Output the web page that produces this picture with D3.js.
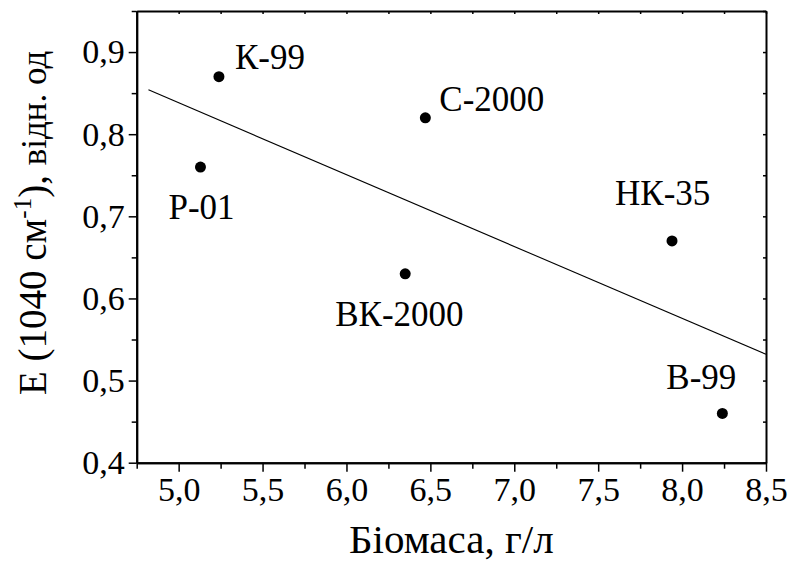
<!DOCTYPE html>
<html>
<head>
<meta charset="utf-8">
<script src="https://cdn.jsdelivr.net/npm/d3@7"></script>
<style>
html,body{margin:0;padding:0;background:#fff;}
svg text{font-family:'Liberation Serif', serif;}
</style>
</head>
<body>
<svg id="chart" width="790" height="561"></svg>
<script>
// ---- data ----
const sampleNames = ["К-99", "Р-01", "С-2000", "ВК-2000", "НК-35", "В-99"];
const biomass     = [5.24, 5.13, 6.47, 6.35, 7.94, 8.24];
const extinction  = [0.87, 0.76, 0.82, 0.63, 0.67, 0.46];
const fitX = [4.82, 8.5];
const fitY = [0.854, 0.532];
const xTickValues = [5.0, 5.5, 6.0, 6.5, 7.0, 7.5, 8.0, 8.5];
const yTickValues = [0.4, 0.5, 0.6, 0.7, 0.8, 0.9];
const xMinorValues = [4.75, 5.25, 5.75, 6.25, 6.75, 7.25, 7.75, 8.25];
const yMinorValues = [0.45, 0.55, 0.65, 0.75, 0.85, 0.95];

// label placement (pixel offsets from point: text start, baseline)
const labelOffsets = [[16,-8],[-32,52],[14,-7],[-70,52],[-57,-36],[-56,-24]];

const FONT = "Liberation Serif";
const svg = d3.select("#chart");
const L = 136.7, R = 766, T = 11, B = 462.7;
const x = d3.scaleLinear().domain([4.75, 8.5]).range([L, R]);
const y = d3.scaleLinear().domain([0.4, 0.95]).range([B, T]);
const fmt = d => d3.format(".1f")(d).replace(".", ",");

// bottom axis
const gB = svg.append("g").attr("transform", `translate(0,${B})`);
gB.call(d3.axisBottom(x).tickValues(xTickValues).tickFormat(fmt).tickSize(9).tickSizeOuter(0).tickPadding(5));
gB.append("g").call(d3.axisBottom(x).tickValues(xMinorValues).tickFormat("").tickSize(6).tickSizeOuter(0));
// left axis
const gL = svg.append("g").attr("transform", `translate(${L},0)`);
gL.call(d3.axisLeft(y).tickValues(yTickValues).tickFormat(fmt).tickSize(8).tickSizeOuter(0).tickPadding(4));
gL.append("g").call(d3.axisLeft(y).tickValues(yMinorValues).tickFormat("").tickSize(5).tickSizeOuter(0));
// top axis (inward ticks)
const gT = svg.append("g").attr("transform", `translate(0,${T})`);
gT.call(d3.axisBottom(x).tickValues(xTickValues.concat(xMinorValues)).tickFormat("").tickSize(3).tickSizeOuter(0));
// right axis (inward ticks)
const gR = svg.append("g").attr("transform", `translate(${R},0)`);
gR.call(d3.axisLeft(y).tickValues(yTickValues.concat(yMinorValues)).tickFormat("").tickSize(3).tickSizeOuter(0));

svg.selectAll("g").attr("font-family", FONT);
svg.selectAll(".domain").attr("stroke", "#000").attr("stroke-width", 2);
svg.selectAll(".tick line").attr("stroke", "#000").attr("stroke-width", 1.5);
svg.selectAll(".tick text").attr("fill", "#000").attr("font-family", FONT).attr("font-size", 34);
gB.selectAll(".tick text").attr("dy", "0.71em");

// fit line
svg.append("path")
  .datum(fitX.map((v, i) => [v, fitY[i]]))
  .attr("d", d3.line().x(d => x(d[0])).y(d => y(d[1])))
  .attr("fill", "none").attr("stroke", "#000").attr("stroke-width", 1.1);

// points
const pts = sampleNames.map((n, i) => ({name: n, bx: biomass[i], ey: extinction[i], off: labelOffsets[i]}));
svg.selectAll("circle.pt").data(pts).enter().append("circle")
  .attr("class", "pt")
  .attr("cx", d => x(d.bx)).attr("cy", d => y(d.ey)).attr("r", 5.5).attr("fill", "#000");
svg.selectAll("text.lbl").data(pts).enter().append("text")
  .attr("class", "lbl")
  .attr("x", d => x(d.bx) + d.off[0]).attr("y", d => y(d.ey) + d.off[1])
  .attr("font-family", FONT).attr("font-size", 35).attr("fill", "#000")
  .text(d => d.name);

// axis titles
svg.append("text")
  .attr("x", (L + R) / 2).attr("y", 553).attr("text-anchor", "middle")
  .attr("font-family", FONT).attr("font-size", 41).attr("fill", "#000")
  .text("Біомаса, г/л");

const yt = svg.append("text")
  .attr("transform", "translate(46,395) rotate(-90)")
  .attr("text-anchor", "start").attr("font-family", FONT).attr("font-size", 39).attr("fill", "#000");
yt.append("tspan").text("E (1040 см");
yt.append("tspan").attr("font-size", 25).attr("dy", -15).text("-1");
yt.append("tspan").attr("dy", 15).text("), ");
yt.append("tspan").attr("font-size", 35).text("відн. од");
</script>
</body>
</html>
